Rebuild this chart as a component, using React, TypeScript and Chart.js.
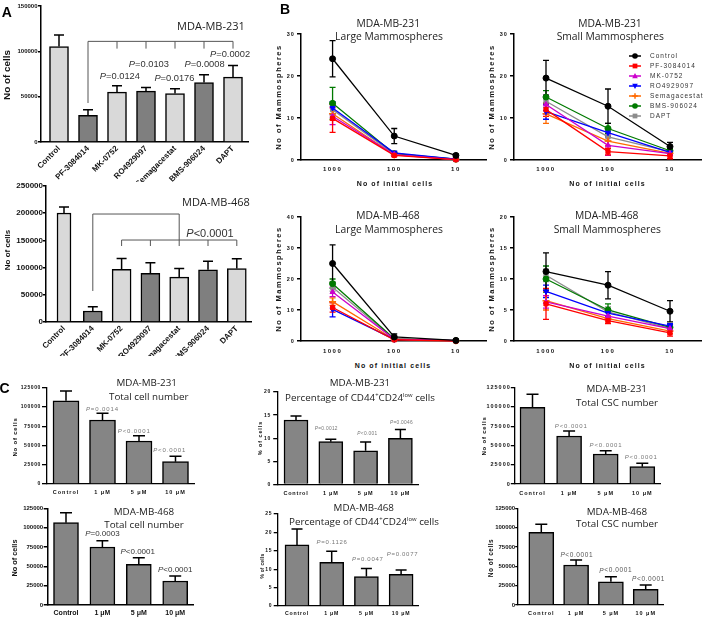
import React, { useEffect, useRef } from "react";
import { Chart, registerables } from "chart.js";

Chart.register(...registerables);

const SANS = '"Liberation Sans", Arial, Helvetica, sans-serif';
const TITLE = '"Open Sans", "Noto Sans", sans-serif';

// ===== Panel A data =====
const drugLabels = ["Control", "PF-3084014", "MK-0752", "RO4929097", "Semagacestat", "BMS-906024", "DAPT"];
const a231Mean = [105200, 29300, 55000, 56100, 53500, 65600, 71500];
const a231Sem = [12900, 6200, 7000, 4000, 5200, 8500, 12800];
const a468Mean = [200400, 20200, 96600, 89300, 82500, 95900, 98400];
const a468Sem = [11100, 7900, 20200, 19400, 15900, 16000, 17700];

// ===== Panel B data (rows: series, cols: 1000 / 100 / 10 initial cells) =====
const initialCells = ["1000", "100", "10"];
const seriesNames = ["Control", "PF-3084014", "MK-0752", "RO4929097", "Semagacestat", "BMS-906024", "DAPT"];
const b231LargeMean = [
  [24.1, 5.7, 1.1],
  [9.9, 1.1, 0.1],
  [10.4, 1.3, 0.1],
  [12.4, 1.7, 0.2],
  [11.0, 1.2, 0.1],
  [13.5, 1.5, 0.2],
  [12.0, 1.4, 0.2],
];
const b231LargeSem = [
  [4.3, 1.8, 0.3],
  [3.3, 0.3, 0.1],
  [2.0, 0.3, 0.1],
  [1.5, 0.4, 0.1],
  [1.5, 0.3, 0.1],
  [3.8, 0.3, 0.1],
  [1.5, 0.3, 0.1],
];
const b231SmallMean = [
  [19.5, 12.8, 3.2],
  [12.0, 2.0, 1.0],
  [13.2, 3.5, 1.5],
  [11.5, 6.5, 1.8],
  [11.0, 4.5, 1.6],
  [15.0, 7.5, 2.2],
  [14.0, 5.5, 2.0],
];
const b231SmallSem = [
  [4.2, 4.1, 1.0],
  [1.6, 0.8, 0.7],
  [2.3, 2.4, 0.5],
  [1.8, 1.0, 0.5],
  [2.3, 1.0, 0.5],
  [1.5, 1.2, 0.5],
  [1.5, 1.0, 0.4],
];
const b468LargeMean = [
  [25.0, 1.3, 0.2],
  [10.8, 0.4, 0.0],
  [15.8, 0.6, 0.1],
  [10.2, 0.5, 0.1],
  [12.7, 0.5, 0.1],
  [18.5, 0.7, 0.1],
  [17.3, 0.6, 0.1],
];
const b468LargeSem = [
  [6.0, 1.0, 0.2],
  [1.5, 0.2, 0.1],
  [1.5, 0.2, 0.1],
  [2.4, 0.2, 0.1],
  [1.2, 0.2, 0.1],
  [1.5, 0.3, 0.1],
  [1.2, 0.2, 0.1],
];
const b468SmallMean = [
  [11.2, 9.0, 4.8],
  [6.0, 3.3, 1.3],
  [6.3, 4.0, 2.0],
  [8.0, 4.5, 2.4],
  [6.5, 3.6, 1.6],
  [10.0, 5.0, 2.2],
  [10.6, 4.7, 2.0],
];
const b468SmallSem = [
  [3.0, 2.2, 1.7],
  [2.5, 0.5, 0.5],
  [1.0, 0.6, 0.4],
  [1.0, 0.6, 0.4],
  [1.5, 0.5, 0.4],
  [2.1, 1.0, 0.5],
  [1.0, 0.8, 0.4],
];

// ===== Panel C data =====
const doseLabels = ["Control", "1 \u03bcM", "5 \u03bcM", "10 \u03bcM"];
const c231TotalMean = [108100, 83100, 55800, 29000];
const c231TotalSem = [12600, 8600, 6900, 6900];
const c468TotalMean = [106400, 75000, 52600, 31000];
const c468TotalSem = [12900, 8100, 8600, 6500];
const c231PctMean = [13.95, 9.26, 7.3, 10.0];
const c231PctSem = [0.85, 0.5, 1.9, 1.9];
const c468PctMean = [16.6, 11.9, 8.0, 8.6];
const c468PctSem = [4.3, 3.0, 2.2, 1.2];
const c231CscMean = [99500, 62300, 38900, 22500];
const c231CscSem = [16900, 6500, 4300, 4300];
const c468CscMean = [94000, 51700, 30100, 20300];
const c468CscSem = [10300, 6500, 6500, 5600];

// ===== styles =====
const LIGHT = "#d9d9d9";
const DARK = "#7f7f7f";
const CBAR = "#858585";
const SERIES_COLORS = ["#000000", "#ff0000", "#cc00cc", "#0000ff", "#ff6a00", "#007a00", "#8c8c8c"];
const SERIES_MARKERS = ["circle", "rect", "triangle", "triangle", "cross", "circle", "rect"];
const SERIES_ROT = [0, 0, 0, 180, 0, 0, 0];

type Frame = { axisX: number; right: number; top: number; bottom: number; first: number; step: number };
type Box = { left: number; top: number; width: number; height: number };
type AxisStyle = { size: number; ls: number; tick: number; pad: number; rot?: number; color?: string };
type PLabel = { x: number; y: number; text: string };
type Bracket = { from: number; to: number; y: number; drops: { i: number; to: number }[] };

interface Spec {
  box: Box;
  frame: Frame;
  labels: string[];
  yMax: number;
  yStep: number;
  yAxis: AxisStyle;
  xAxis: AxisStyle;
  axisWidth: number;
  bars?: { mean: number[]; sem: number[]; colors: string[]; thickness: number; firstThickness?: number; cap: number };
  lines?: { mean: number[][]; sem: number[][] };
  pLabels?: PLabel[];
  pFont?: { size: number; ls: number; color: string };
  brackets?: Bracket[];
  legend?: { x: number; y: number; gap: number };
}

function patchLs(scale: any, ls: number) {
  if (!ls || scale.__lsPatched) return;
  const orig = scale.drawLabels;
  scale.drawLabels = function (area: any) {
    const ctx = this.ctx;
    const prev = ctx.letterSpacing;
    ctx.letterSpacing = ls + "px";
    orig.call(this, area);
    ctx.letterSpacing = prev || "0px";
  };
  scale.__lsPatched = true;
}

function drawP(ctx: any, text: string, cx: number, cy: number, size: number, ls: number, color: string) {
  ctx.save();
  ctx.fillStyle = color;
  ctx.textBaseline = "middle";
  ctx.textAlign = "left";
  ctx.letterSpacing = ls + "px";
  const head = text.slice(0, 1);
  const tail = text.slice(1);
  const fi = `italic ${size}px ${SANS}`;
  const fn = `${size}px ${SANS}`;
  ctx.font = fi;
  const w1 = ctx.measureText(head).width;
  ctx.font = fn;
  const w2 = ctx.measureText(tail).width;
  const x = cx - (w1 + w2) / 2;
  ctx.font = fi;
  ctx.fillText(head, x, cy);
  ctx.font = fn;
  ctx.fillText(tail, x + w1, cy);
  ctx.restore();
}

function drawMarker(ctx: any, style: string, rot: number, x: number, y: number, r: number, color: string) {
  ctx.save();
  ctx.fillStyle = color;
  ctx.strokeStyle = color;
  ctx.lineWidth = 1.5;
  ctx.translate(x, y);
  ctx.rotate((rot * Math.PI) / 180);
  ctx.beginPath();
  if (style === "circle") {
    ctx.arc(0, 0, r, 0, Math.PI * 2);
    ctx.fill();
  } else if (style === "rect") {
    ctx.fillRect(-r * 0.85, -r * 0.85, r * 1.7, r * 1.7);
  } else if (style === "triangle") {
    ctx.moveTo(0, -r * 1.1);
    ctx.lineTo(r, r * 0.8);
    ctx.lineTo(-r, r * 0.8);
    ctx.closePath();
    ctx.fill();
  } else {
    ctx.moveTo(-r, 0);
    ctx.lineTo(r, 0);
    ctx.moveTo(0, -r);
    ctx.lineTo(0, r);
    ctx.stroke();
  }
  ctx.restore();
}

function decoPlugin(spec: Spec) {
  return {
    id: "deco",
    beforeDatasetsDraw(chart: any) {
      if (!spec.lines) return;
      const ctx = chart.ctx;
      const xs = chart.scales.x;
      const ys = chart.scales.y;
      ctx.save();
      ctx.lineWidth = 1.3;
      for (let k = spec.lines.mean.length - 1; k >= 0; k--) {
        ctx.strokeStyle = SERIES_COLORS[k];
        spec.lines.mean[k].forEach((v, i) => {
          const e = spec.lines!.sem[k][i];
          const x = xs.getPixelForValue(i);
          const yt = ys.getPixelForValue(v + e);
          const yb = ys.getPixelForValue(Math.max(0, v - e));
          ctx.beginPath();
          ctx.moveTo(x, yt);
          ctx.lineTo(x, yb);
          ctx.moveTo(x - 3, yt);
          ctx.lineTo(x + 3, yt);
          ctx.moveTo(x - 3, yb);
          ctx.lineTo(x + 3, yb);
          ctx.stroke();
        });
      }
      ctx.restore();
    },
    afterDatasetsDraw(chart: any) {
      const ctx = chart.ctx;
      const xs = chart.scales.x;
      const ys = chart.scales.y;
      const left = spec.box.left;
      const top = spec.box.top;
      if (spec.bars) {
        const b = spec.bars;
        ctx.save();
        ctx.strokeStyle = "#000";
        ctx.lineWidth = 1.5;
        b.mean.forEach((v, i) => {
          const x = xs.getPixelForValue(i);
          const yb = ys.getPixelForValue(v);
          const yt = ys.getPixelForValue(v + b.sem[i]);
          ctx.beginPath();
          ctx.moveTo(x, yb);
          ctx.lineTo(x, yt);
          ctx.moveTo(x - b.cap / 2, yt);
          ctx.lineTo(x + b.cap / 2, yt);
          ctx.stroke();
        });
        ctx.restore();
      }
      if (spec.brackets) {
        ctx.save();
        ctx.strokeStyle = "#555";
        ctx.lineWidth = 1;
        spec.brackets.forEach((br) => {
          const y = ys.getPixelForValue(br.y);
          ctx.beginPath();
          ctx.moveTo(xs.getPixelForValue(br.from), y);
          ctx.lineTo(xs.getPixelForValue(br.to), y);
          br.drops.forEach((d) => {
            const x = xs.getPixelForValue(d.i);
            ctx.moveTo(x, y);
            ctx.lineTo(x, ys.getPixelForValue(d.to));
          });
          ctx.stroke();
        });
        ctx.restore();
      }
      if (spec.pLabels && spec.pFont) {
        const pf = spec.pFont;
        spec.pLabels.forEach((p) => {
          drawP(ctx, p.text, xs.getPixelForValue(p.x), ys.getPixelForValue(p.y), pf.size, pf.ls, pf.color);
        });
      }
      if (spec.legend) {
        const lg = spec.legend;
        ctx.save();
        seriesNames.forEach((name, k) => {
          const cx = lg.x - left;
          const cy = lg.y - top + k * lg.gap;
          ctx.strokeStyle = SERIES_COLORS[k];
          ctx.lineWidth = 1.5;
          ctx.beginPath();
          ctx.moveTo(cx - 6, cy);
          ctx.lineTo(cx + 6, cy);
          ctx.stroke();
          drawMarker(ctx, SERIES_MARKERS[k], SERIES_ROT[k], cx, cy, 2.8, SERIES_COLORS[k]);
          ctx.fillStyle = "#333";
          ctx.font = `6.5px ${SANS}`;
          ctx.letterSpacing = "1px";
          ctx.textAlign = "left";
          ctx.textBaseline = "middle";
          ctx.fillText(name, cx + 15, cy);
          ctx.letterSpacing = "0px";
        });
        ctx.restore();
      }
    },
  };
}

function buildConfig(spec: Spec): any {
  const f = spec.frame;
  const b = spec.box;
  const xMin = -(f.first - f.axisX) / f.step;
  const xMax = (f.right - f.first) / f.step;
  const yW = f.axisX - b.left;
  const xH = b.top + b.height - f.bottom;
  const padTop = f.top - b.top;
  const padRight = b.left + b.width - f.right;
  const yTicks: number[] = [];
  for (let v = 0; v <= spec.yMax + 1e-9; v += spec.yStep) yTicks.push(Math.round(v * 1000) / 1000);
  const labels = spec.labels;

  let datasets: any[] = [];
  let type = "bar";
  if (spec.bars) {
    const bs = spec.bars;
    const pts = bs.mean.map((v, i) => ({ x: i, y: v }));
    if (bs.firstThickness) {
      datasets = [
        {
          data: pts.slice(0, 1),
          backgroundColor: bs.colors.slice(0, 1),
          borderColor: "#000",
          borderWidth: 1.5,
          barThickness: bs.firstThickness,
          grouped: false,
        },
        {
          data: pts.slice(1),
          backgroundColor: bs.colors.slice(1),
          borderColor: "#000",
          borderWidth: 1.5,
          barThickness: bs.thickness,
          grouped: false,
        },
      ];
    } else {
      datasets = [
        {
          data: pts,
          backgroundColor: bs.colors,
          borderColor: "#000",
          borderWidth: 1.5,
          barThickness: bs.thickness,
        },
      ];
    }
  } else if (spec.lines) {
    type = "line";
    const ln = spec.lines;
    datasets = seriesNames.map((name, k) => ({
      label: name,
      data: ln.mean[k].map((v, i) => ({ x: i, y: v })),
      borderColor: SERIES_COLORS[k],
      backgroundColor: SERIES_COLORS[k],
      pointBackgroundColor: SERIES_COLORS[k],
      pointBorderColor: SERIES_COLORS[k],
      pointStyle: SERIES_MARKERS[k],
      rotation: SERIES_ROT[k],
      pointRadius: SERIES_MARKERS[k] === "cross" ? 3.5 : 3,
      pointBorderWidth: SERIES_MARKERS[k] === "cross" ? 1.5 : 1,
      borderWidth: 1.3,
      tension: 0,
      clip: false,
    }));
  }

  return {
    type,
    data: { datasets },
    options: {
      animation: false,
      responsive: false,
      maintainAspectRatio: false,
      events: [],
      layout: { padding: { left: 0, top: padTop, right: padRight, bottom: 0 } },
      plugins: { legend: { display: false }, tooltip: { enabled: false }, title: { display: false } },
      scales: {
        x: {
          type: "linear",
          min: xMin,
          max: xMax,
          offset: false,
          afterBuildTicks: (s: any) => {
            s.ticks = labels.map((_, i) => ({ value: i }));
          },
          ticks: {
            callback: (v: any) => labels[v] ?? "",
            autoSkip: false,
            minRotation: spec.xAxis.rot ?? 0,
            maxRotation: spec.xAxis.rot ?? 0,
            padding: spec.xAxis.pad,
            color: spec.xAxis.color ?? "#111",
            font: { family: SANS, size: spec.xAxis.size, weight: "bold" },
          },
          grid: { display: false, drawTicks: false },
          border: { display: true, color: "#000", width: spec.axisWidth },
          afterFit: (s: any) => {
            s.height = xH;
            patchLs(s, spec.xAxis.ls);
          },
        },
        y: {
          type: "linear",
          min: 0,
          max: spec.yMax,
          afterBuildTicks: (s: any) => {
            s.ticks = yTicks.map((v) => ({ value: v }));
          },
          ticks: {
            callback: (v: any) => String(v),
            padding: spec.yAxis.pad,
            color: spec.yAxis.color ?? "#111",
            font: { family: SANS, size: spec.yAxis.size, weight: "bold" },
          },
          grid: {
            display: true,
            drawOnChartArea: false,
            drawTicks: true,
            tickLength: spec.yAxis.tick,
            color: "#000",
            lineWidth: spec.axisWidth,
          },
          border: { display: true, color: "#000", width: spec.axisWidth },
          afterFit: (s: any) => {
            s.width = yW;
            patchLs(s, spec.yAxis.ls);
          },
        },
      },
    },
    plugins: [decoPlugin(spec)],
  };
}

function ChartCanvas({ spec }: { spec: Spec }) {
  const ref = useRef<HTMLCanvasElement>(null);
  useEffect(() => {
    const chart = new Chart(ref.current as HTMLCanvasElement, buildConfig(spec));
    return () => chart.destroy();
  }, []);
  const b = spec.box;
  return (
    <canvas
      ref={ref}
      width={b.width}
      height={b.height}
      style={{ position: "absolute", left: b.left, top: b.top, width: b.width, height: b.height }}
    />
  );
}

function T(props: {
  x: number;
  y: number;
  s: number;
  w?: number;
  f?: string;
  ls?: number;
  rot?: number;
  c?: string;
  children: React.ReactNode;
}) {
  const { x, y, s, w = 400, f = TITLE, ls = 0, rot = 0, c = "#222", children } = props;
  return (
    <div
      style={{
        position: "absolute",
        left: x,
        top: y,
        transform: `translate(-50%,-50%) rotate(${rot}deg)`,
        fontFamily: f,
        fontSize: s,
        fontWeight: w,
        letterSpacing: ls,
        color: c,
        whiteSpace: "nowrap",
        lineHeight: 1,
      }}
    >
      {children}
    </div>
  );
}

const alt = (n: number) => Array.from({ length: n }, (_, i) => (i % 2 ? DARK : LIGHT));
const gray4 = [CBAR, CBAR, CBAR, CBAR];

const specs: Spec[] = [
  // A top
  {
    box: { left: 0, top: 0, width: 252, height: 182 },
    frame: { axisX: 41, right: 248, top: 6, bottom: 142, first: 59, step: 29 },
    labels: drugLabels,
    yMax: 150000,
    yStep: 50000,
    yAxis: { size: 6, ls: 0, tick: 3, pad: 0.5 },
    xAxis: { size: 8, ls: 0, tick: 0, pad: 2, rot: 45 },
    axisWidth: 1.5,
    bars: { mean: a231Mean, sem: a231Sem, colors: alt(7), thickness: 19, cap: 10 },
    brackets: [
      {
        from: 1,
        to: 6,
        y: 111000,
        drops: [
          { i: 1, to: 43000 },
          { i: 2, to: 103000 },
          { i: 3, to: 103000 },
          { i: 4, to: 103000 },
          { i: 5, to: 103000 },
          { i: 6, to: 103000 },
        ],
      },
    ],
    pLabels: [
      { x: 2.1, y: 72200, text: "P=0.0124" },
      { x: 3.1, y: 85800, text: "P=0.0103" },
      { x: 3.98, y: 70000, text: "P=0.0176" },
      { x: 5.02, y: 85800, text: "P=0.0008" },
      { x: 5.9, y: 96100, text: "P=0.0002" },
    ],
    pFont: { size: 9.3, ls: 0, color: "#333" },
  },
  // A bottom
  {
    box: { left: 0, top: 178, width: 256, height: 178 },
    frame: { axisX: 46, right: 251, top: 186, bottom: 322, first: 64, step: 28.8 },
    labels: drugLabels,
    yMax: 250000,
    yStep: 50000,
    yAxis: { size: 8, ls: 0, tick: 3, pad: 0 },
    xAxis: { size: 8, ls: 0, tick: 0, pad: 2, rot: 45 },
    axisWidth: 1.5,
    bars: { mean: a468Mean, sem: a468Sem, colors: alt(7), thickness: 19, firstThickness: 14, cap: 10 },
    brackets: [
      { from: 1, to: 4, y: 198500, drops: [{ i: 1, to: 57000 }, { i: 4, to: 150700 }] },
      {
        from: 2,
        to: 6,
        y: 150700,
        drops: [
          { i: 2, to: 139700 },
          { i: 3, to: 139700 },
          { i: 4, to: 139700 },
          { i: 5, to: 139700 },
          { i: 6, to: 139700 },
        ],
      },
    ],
    pLabels: [{ x: 5.07, y: 161000, text: "P<0.0001" }],
    pFont: { size: 11, ls: 0, color: "#333" },
  },
  // B 231 large
  {
    box: { left: 268, top: 28, width: 224, height: 150 },
    frame: { axisX: 301, right: 489, top: 34, bottom: 160, first: 333, step: 62.5 },
    labels: initialCells,
    yMax: 30,
    yStep: 10,
    yAxis: { size: 5.5, ls: 0.8, tick: 4, pad: 2.5 },
    xAxis: { size: 6, ls: 1.5, tick: 0, pad: 5.7 },
    axisWidth: 1.5,
    lines: { mean: b231LargeMean, sem: b231LargeSem },
  },
  // B 231 small
  {
    box: { left: 482, top: 28, width: 226, height: 150 },
    frame: { axisX: 514, right: 701, top: 34, bottom: 160, first: 546, step: 62 },
    labels: initialCells,
    yMax: 30,
    yStep: 10,
    yAxis: { size: 5.5, ls: 0.8, tick: 4, pad: 2.5 },
    xAxis: { size: 6, ls: 1.5, tick: 0, pad: 5.7 },
    axisWidth: 1.5,
    lines: { mean: b231SmallMean, sem: b231SmallSem },
    legend: { x: 635, y: 56, gap: 10 },
  },
  // B 468 large
  {
    box: { left: 268, top: 211, width: 224, height: 150 },
    frame: { axisX: 301, right: 489, top: 217, bottom: 341, first: 333, step: 62.5 },
    labels: initialCells,
    yMax: 40,
    yStep: 10,
    yAxis: { size: 5.5, ls: 0.8, tick: 4, pad: 2.5 },
    xAxis: { size: 6, ls: 1.5, tick: 0, pad: 6.9 },
    axisWidth: 1.5,
    lines: { mean: b468LargeMean, sem: b468LargeSem },
  },
  // B 468 small
  {
    box: { left: 482, top: 211, width: 226, height: 150 },
    frame: { axisX: 514, right: 701, top: 217, bottom: 341, first: 546, step: 62 },
    labels: initialCells,
    yMax: 20,
    yStep: 5,
    yAxis: { size: 5.5, ls: 0.8, tick: 4, pad: 2.5 },
    xAxis: { size: 6, ls: 1.5, tick: 0, pad: 6.9 },
    axisWidth: 1.5,
    lines: { mean: b468SmallMean, sem: b468SmallSem },
  },
  // C 231 total
  {
    box: { left: 0, top: 382, width: 200, height: 115 },
    frame: { axisX: 47, right: 194, top: 387.7, bottom: 484, first: 66, step: 36.5 },
    labels: doseLabels,
    yMax: 125000,
    yStep: 25000,
    yAxis: { size: 5, ls: 0.6, tick: 5, pad: 1 },
    xAxis: { size: 5.5, ls: 1, tick: 0, pad: 5.2 },
    axisWidth: 1.3,
    bars: { mean: c231TotalMean, sem: c231TotalSem, colors: gray4, thickness: 26, cap: 12 },
    pLabels: [
      { x: 1, y: 97350, text: "P=0.0014" },
      { x: 1.87, y: 68800, text: "P<0.0001" },
      { x: 2.84, y: 44130, text: "P<0.0001" },
    ],
    pFont: { size: 6, ls: 0.9, color: "#777" },
  },
  // C 468 total
  {
    box: { left: 0, top: 502, width: 200, height: 118 },
    frame: { axisX: 47.7, right: 193, top: 508.3, bottom: 605, first: 66, step: 36.4 },
    labels: doseLabels,
    yMax: 125000,
    yStep: 25000,
    yAxis: { size: 6, ls: 0, tick: 4, pad: 0.5 },
    xAxis: { size: 7, ls: 0, tick: 0, pad: 3.8 },
    axisWidth: 1.5,
    bars: { mean: c468TotalMean, sem: c468TotalSem, colors: gray4, thickness: 25, cap: 12 },
    pLabels: [
      { x: 1, y: 91780, text: "P=0.0003" },
      { x: 1.97, y: 68510, text: "P<0.0001" },
      { x: 3, y: 45240, text: "P<0.0001" },
    ],
    pFont: { size: 8, ls: 0, color: "#333" },
  },
  // C 231 percentage
  {
    box: { left: 238, top: 386, width: 182, height: 111 },
    frame: { axisX: 277.7, right: 418, top: 392, bottom: 484.5, first: 296, step: 34.8 },
    labels: doseLabels,
    yMax: 20,
    yStep: 5,
    yAxis: { size: 5, ls: 0.8, tick: 4.5, pad: 2 },
    xAxis: { size: 5.5, ls: 0.8, tick: 0, pad: 5.5 },
    axisWidth: 1.3,
    bars: { mean: c231PctMean, sem: c231PctSem, colors: gray4, thickness: 24, cap: 11 },
    pLabels: [
      { x: 0.87, y: 12.0, text: "P=0.0012" },
      { x: 2.05, y: 10.9, text: "P<0.001" },
      { x: 3.03, y: 13.3, text: "P=0.0046" },
    ],
    pFont: { size: 4.8, ls: 0.3, color: "#777" },
  },
  // C 468 percentage
  {
    box: { left: 238, top: 508, width: 182, height: 112 },
    frame: { axisX: 277.7, right: 418, top: 514, bottom: 606, first: 297, step: 34.7 },
    labels: doseLabels,
    yMax: 25,
    yStep: 5,
    yAxis: { size: 5, ls: 0.7, tick: 4, pad: 1.5 },
    xAxis: { size: 5.2, ls: 0.8, tick: 0, pad: 4.9 },
    axisWidth: 1.3,
    bars: { mean: c468PctMean, sem: c468PctSem, colors: gray4, thickness: 24, cap: 11 },
    pLabels: [
      { x: 1.01, y: 17.4, text: "P=0.1126" },
      { x: 2.04, y: 12.8, text: "P=0.0047" },
      { x: 3.04, y: 14.1, text: "P=0.0077" },
    ],
    pFont: { size: 6, ls: 0.7, color: "#777" },
  },
  // C 231 CSC
  {
    box: { left: 470, top: 382, width: 200, height: 115 },
    frame: { axisX: 514.3, right: 660, top: 387.7, bottom: 484, first: 532.5, step: 36.6 },
    labels: doseLabels,
    yMax: 125000,
    yStep: 25000,
    yAxis: { size: 5.5, ls: 1, tick: 3.5, pad: 0 },
    xAxis: { size: 5.5, ls: 1, tick: 0, pad: 5.7 },
    axisWidth: 1.3,
    bars: { mean: c231CscMean, sem: c231CscSem, colors: gray4, thickness: 25, cap: 12 },
    pLabels: [
      { x: 1.06, y: 75290, text: "P<0.0001" },
      { x: 2.01, y: 50620, text: "P<0.0001" },
      { x: 2.97, y: 34140, text: "P<0.0001" },
    ],
    pFont: { size: 6, ls: 0.9, color: "#777" },
  },
  // C 468 CSC
  {
    box: { left: 470, top: 502, width: 200, height: 118 },
    frame: { axisX: 517.7, right: 663, top: 508.3, bottom: 605, first: 541.3, step: 34.8 },
    labels: doseLabels,
    yMax: 125000,
    yStep: 25000,
    yAxis: { size: 6, ls: 0, tick: 2.5, pad: 0 },
    xAxis: { size: 5.5, ls: 1, tick: 0, pad: 4.7 },
    axisWidth: 1.3,
    bars: { mean: c468CscMean, sem: c468CscSem, colors: gray4, thickness: 25, cap: 12 },
    pLabels: [
      { x: 1.02, y: 64630, text: "P<0.0001" },
      { x: 2.14, y: 44340, text: "P<0.0001" },
      { x: 3.08, y: 33610, text: "P<0.0001" },
    ],
    pFont: { size: 6.5, ls: 0.6, color: "#555" },
  },
];

const pctTitle = (
  <span>
    Percentage of CD44<sup style={{ fontSize: "0.6em", lineHeight: 0 }}>+</sup>CD24
    <sup style={{ fontSize: "0.6em", lineHeight: 0 }}>low</sup> cells
  </span>
);

export default function App() {
  return (
    <div
      style={{
        position: "absolute",
        left: 0,
        top: 0,
        width: 709,
        height: 620,
        background: "#fff",
        overflow: "hidden",
      }}
    >
      {specs.map((s, i) => (
        <ChartCanvas key={i} spec={s} />
      ))}

      {/* panel letters */}
      <T x={6.7} y={11.7} s={14} w={700} f={SANS} c="#000">A</T>
      <T x={285} y={9} s={14} w={700} f={SANS} c="#000">B</T>
      <T x={4.5} y={388} s={14} w={700} f={SANS} c="#000">C</T>

      {/* panel A */}
      <T x={211} y={25} s={11}>MDA-MB-231</T>
      <T x={216} y={200.5} s={11}>MDA-MB-468</T>
      <T x={6.7} y={75} s={9.9} w={700} f={SANS} rot={-90} c="#111">No of cells</T>
      <T x={8.3} y={250} s={8} w={700} f={SANS} rot={-90} c="#111">No of cells</T>

      {/* panel B */}
      <T x={388.3} y={23.3} s={10.3}>MDA-MB-231</T>
      <T x={389} y={36} s={10.3}>Large Mammospheres</T>
      <T x={610} y={23.3} s={10.3}>MDA-MB-231</T>
      <T x={610.3} y={36} s={10.3}>Small Mammospheres</T>
      <T x={388} y={215} s={10.3}>MDA-MB-468</T>
      <T x={389} y={229.3} s={10.3}>Large Mammospheres</T>
      <T x={606.7} y={215} s={10.3}>MDA-MB-468</T>
      <T x={607.3} y={229.3} s={10.3}>Small Mammospheres</T>
      <T x={279.3} y={97} s={7.5} w={700} f={SANS} ls={1.5} rot={-90} c="#111">No of Mammospheres</T>
      <T x={491.7} y={97} s={7.5} w={700} f={SANS} ls={1.5} rot={-90} c="#111">No of Mammospheres</T>
      <T x={279.3} y={279} s={7.5} w={700} f={SANS} ls={1.5} rot={-90} c="#111">No of Mammospheres</T>
      <T x={491.7} y={279} s={7.5} w={700} f={SANS} ls={1.5} rot={-90} c="#111">No of Mammospheres</T>
      <T x={395} y={183.3} s={7} w={700} f={SANS} ls={1.1} c="#111">No of initial cells</T>
      <T x={607.5} y={183.3} s={7} w={700} f={SANS} ls={1.1} c="#111">No of initial cells</T>
      <T x={393} y={364.8} s={7} w={700} f={SANS} ls={1.1} c="#111">No of initial cells</T>
      <T x={607.5} y={364.8} s={7} w={700} f={SANS} ls={1.1} c="#111">No of initial cells</T>

      {/* panel C */}
      <T x={146.7} y={383.3} s={9.8}>MDA-MB-231</T>
      <T x={148.8} y={397.3} s={9.8}>Total cell number</T>
      <T x={144} y={512} s={9.8}>MDA-MB-468</T>
      <T x={144} y={524.5} s={9.8}>Total cell number</T>
      <T x={360} y={383} s={9.8}>MDA-MB-231</T>
      <T x={360} y={397.7} s={9.8}>{pctTitle}</T>
      <T x={363.8} y={508} s={9.8}>MDA-MB-468</T>
      <T x={364} y={521.7} s={9.8}>{pctTitle}</T>
      <T x={616.7} y={389} s={9.8}>MDA-MB-231</T>
      <T x={617} y={402.7} s={9.8}>Total CSC number</T>
      <T x={617} y={511.7} s={9.8}>MDA-MB-468</T>
      <T x={617} y={524.3} s={9.8}>Total CSC number</T>
      <T x={15.3} y={437} s={6} w={700} f={SANS} ls={0.8} rot={-90} c="#111">No of cells</T>
      <T x={15} y={558.3} s={7.3} w={700} f={SANS} rot={-90} c="#111">No of cells</T>
      <T x={261} y={437.5} s={5.5} w={700} f={SANS} ls={0.9} rot={-90} c="#111">% of cells</T>
      <T x={263} y={566} s={4.8} w={700} f={SANS} ls={0.3} rot={-90} c="#111">% of cells</T>
      <T x={484} y={435.8} s={6} w={700} f={SANS} ls={0.8} rot={-90} c="#111">No of cells</T>
      <T x={490.8} y={557.5} s={6.5} w={700} f={SANS} ls={0.5} rot={-90} c="#111">No of cells</T>
    </div>
  );
}
